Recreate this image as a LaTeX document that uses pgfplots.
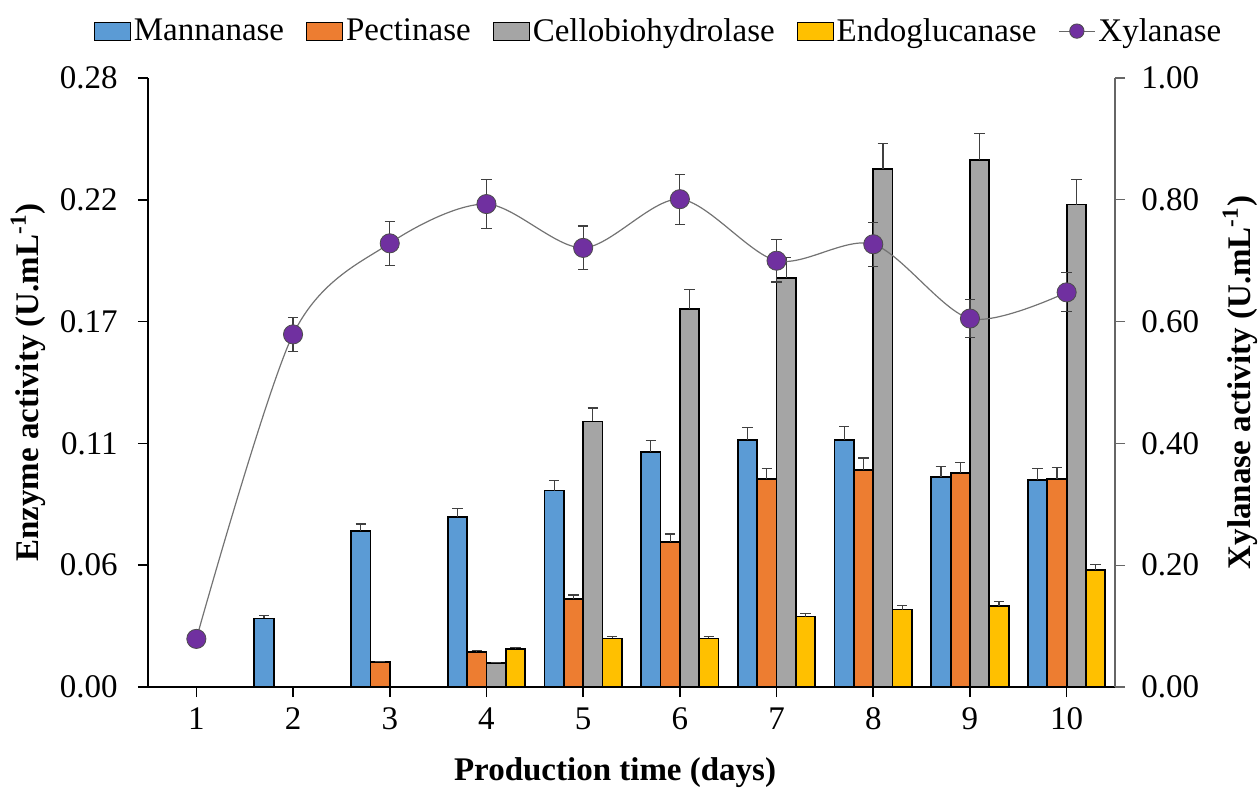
\documentclass[border=0pt]{standalone}
\usepackage{pgfplots}
\pgfplotsset{compat=1.18}
\usepackage{fontspec}
\setmainfont{Liberation Serif}
\definecolor{manc}{HTML}{5B9BD5}
\definecolor{pecc}{HTML}{ED7D31}
\definecolor{celc}{HTML}{A5A5A5}
\definecolor{endc}{HTML}{FFC000}
\definecolor{xylc}{HTML}{7030A0}
\newcommand\fs{\fontsize{16.5}{19.8}\selectfont}
\pgfplotsset{
  barlegend/.style={legend image code/.code={\draw[##1,draw=black,line width=0.6pt] (0pt,-4.5pt) rectangle (18pt,4.5pt);}},
  errb/.style={error bars/.cd, y dir=plus, y explicit,
    error bar style={black!75,line width=0.6pt},
    error mark options={black!75,line width=0.6pt,mark size=2.6pt,rotate=90}},
}
\begin{document}
\begin{tikzpicture}
\begin{axis}[
  at={(0,0)}, anchor=south west,
  scale only axis, width=483.5pt, height=304.5pt,
  xmin=0.5, xmax=10.5, ymin=0, ymax=0.28,
  axis x line*=bottom, axis y line*=left,
  axis line style={-,black,line width=0.8pt},
  tick align=outside, major tick length=5pt,
  tick style={black,line width=0.8pt},
  xtick={1,2,3,4,5,6,7,8,9,10},
  xticklabels={1,2,3,4,5,6,7,8,9,10},
  ytick={0,0.056,0.112,0.168,0.224,0.28},
  yticklabels={0.00,0.06,0.11,0.17,0.22,0.28},
  ticklabel style={font=\fs},
  xticklabel style={inner sep=0pt, anchor=north, yshift=-5pt},
  yticklabel style={inner sep=0pt, anchor=east, xshift=-10pt},
  xlabel={\textbf{Production time (days)}},
  ylabel={\textbf{Enzyme activity (U.mL\textsuperscript{-1})}},
  xlabel style={font=\fs, at={(axis description cs:0.483,-0.1412)}, anchor=center},
  ylabel style={font=\fs, at={(axis description cs:-0.1241,0.5)}, anchor=center},
  ybar, bar width=0.2,
  legend style={font=\fs, draw=none, fill=none, at={(axis description cs:0.5284,1.077)}, anchor=center,
    legend columns=5, inner sep=0pt,
    nodes={inner sep=1.5pt},
    /tikz/every even column/.append style={column sep=9.4pt}},
  legend cell align=left,
]
\addplot[barlegend, fill=manc, draw=black, line width=0.9pt, bar shift=-0.3, errb] coordinates {
 (2,0.0315) +- (0,0.0013) (3,0.0717) +- (0,0.0032) (4,0.0783) +- (0,0.0039)
 (5,0.0903) +- (0,0.0047) (6,0.1081) +- (0,0.0052) (7,0.1137) +- (0,0.0056)
 (8,0.1137) +- (0,0.0059) (9,0.0965) +- (0,0.0050) (10,0.0953) +- (0,0.0050)};
\addlegendentry{Mannanase}
\addplot[barlegend, fill=pecc, draw=black, line width=0.9pt, bar shift=-0.1, errb] coordinates {
 (3,0.0114) +- (0,0.0004) (4,0.0161) +- (0,0.0006)
 (5,0.0403) +- (0,0.0020) (6,0.0667) +- (0,0.0036) (7,0.0955) +- (0,0.0050)
 (8,0.0998) +- (0,0.0055) (9,0.0983) +- (0,0.0050) (10,0.0958) +- (0,0.0050)};
\addlegendentry{Pectinase}
\addplot[barlegend, fill=celc, draw=black, line width=0.9pt, bar shift=0.1, errb] coordinates {
 (4,0.0110) +- (0,0.0004)
 (5,0.1221) +- (0,0.0062) (6,0.1738) +- (0,0.0088) (7,0.1882) +- (0,0.0094)
 (8,0.2382) +- (0,0.0117) (9,0.2424) +- (0,0.0122) (10,0.2218) +- (0,0.0114)};
\addlegendentry{Cellobiohydrolase}
\addplot[barlegend, fill=endc, draw=black, line width=0.9pt, bar shift=0.3, errb] coordinates {
 (4,0.0176) +- (0,0.0005)
 (5,0.0223) +- (0,0.0011) (6,0.0223) +- (0,0.0011) (7,0.0324) +- (0,0.0013)
 (8,0.0356) +- (0,0.0020) (9,0.0374) +- (0,0.0018) (10,0.0538) +- (0,0.0027)};
\addlegendentry{Endoglucanase}
\addlegendimage{legend image code/.code={\draw[black!60,line width=0.6pt] (0pt,0pt) -- (18pt,0pt); \filldraw[fill=xylc,draw=black!70,line width=0.4pt] (9pt,0pt) circle (3.6pt);}}
\addlegendentry{Xylanase}
\end{axis}
\begin{axis}[
  at={(0,0)}, anchor=south west,
  scale only axis, width=483.5pt, height=304.5pt,
  xmin=0.5, xmax=10.5, ymin=0, ymax=1,
  axis x line=none, axis y line*=right,
  axis line style={-,black!60,line width=0.6pt},
  tick align=outside, major tick length=5pt,
  tick style={black!60,line width=0.6pt},
  ytick={0,0.2,0.4,0.6,0.8,1},
  yticklabels={0.00,0.20,0.40,0.60,0.80,1.00},
  ticklabel style={font=\fs},
  yticklabel style={inner sep=0pt, anchor=west, xshift=8pt},
  ylabel={\textbf{Xylanase activity (U.mL\textsuperscript{-1})}},
  ylabel style={font=\fs, at={(axis description cs:1.1293,0.5)}, anchor=center, rotate=0},
]
\addplot[smooth, tension=0.5, black!55, line width=0.6pt,
  mark=*, mark size=4.8pt, mark options={fill=xylc, draw=black!70, line width=0.4pt},
  error bars/.cd, y dir=both, y explicit,
    error bar style={black!75,line width=0.6pt},
    error mark options={black!75,line width=0.6pt,mark size=2.6pt,rotate=90}]
 coordinates {
 (1,0.079) +- (0,0.0) (2,0.579) +- (0,0.028) (3,0.7285) +- (0,0.036)
 (4,0.793) +- (0,0.040) (5,0.721) +- (0,0.036) (6,0.801) +- (0,0.041)
 (7,0.700) +- (0,0.035) (8,0.727) +- (0,0.036) (9,0.605) +- (0,0.031)
 (10,0.648) +- (0,0.032)};
\end{axis}
\pgfresetboundingbox
\path[use as bounding box] (-74pt,-53pt) rectangle (555pt,343.5pt);
\end{tikzpicture}
\end{document}
